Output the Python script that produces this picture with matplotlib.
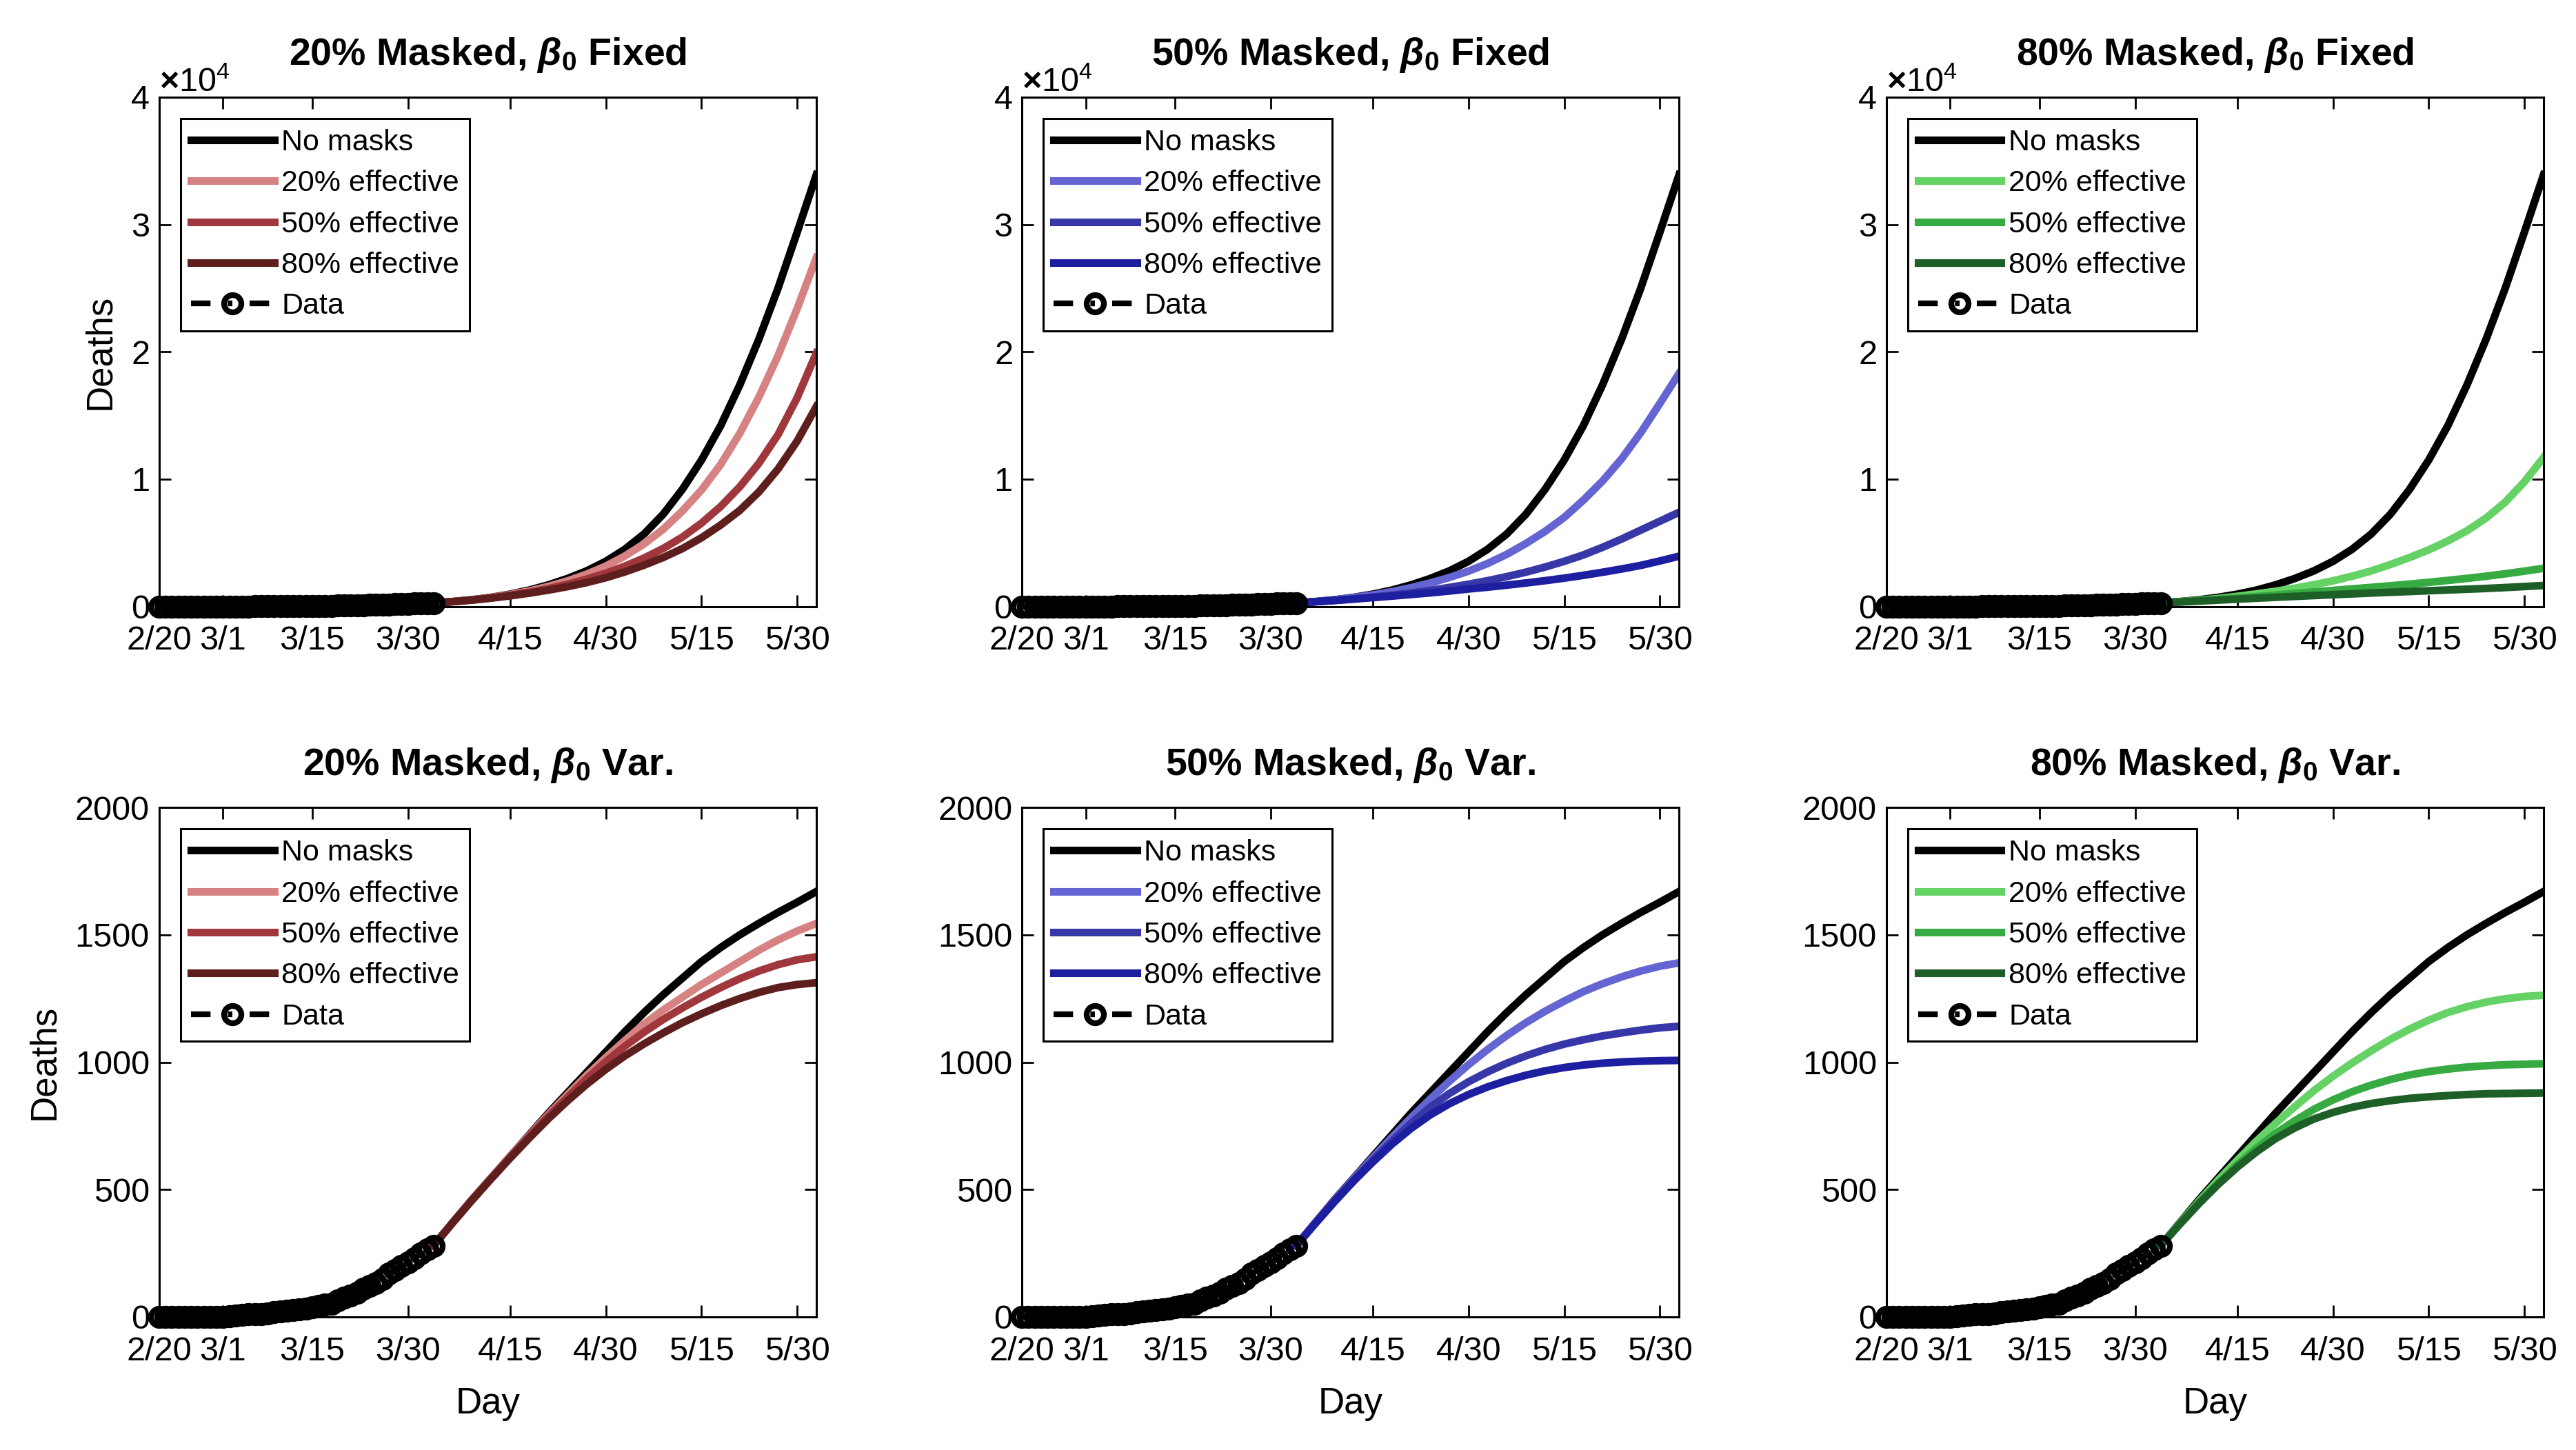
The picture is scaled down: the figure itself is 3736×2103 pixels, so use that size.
import matplotlib
matplotlib.use('Agg')
import matplotlib.pyplot as plt

plt.rcParams['font.family'] = ['Liberation Sans', 'DejaVu Sans']
plt.rcParams['mathtext.fontset'] = 'custom'
plt.rcParams['mathtext.it'] = 'Liberation Sans:italic:bold'
plt.rcParams['mathtext.rm'] = 'Liberation Sans:bold'

# x axis: days since 2/20
tick_days = [0, 10, 24, 39, 55, 70, 85, 100]
tick_labels = ['2/20', '3/1', '3/15', '3/30', '4/15', '4/30', '5/15', '5/30']

# observed cumulative deaths, 2/20 .. 4/3
data_days = list(range(44))
data_deaths = [0, 0, 0, 0, 0, 0, 0, 0, 0, 1,
               1, 2, 6, 9, 10, 11, 12, 14, 18, 22,
               24, 26, 30, 32, 38, 42, 48, 52, 66, 75,
               83, 94, 110, 123, 132, 148, 170, 185, 200, 215,
               230, 250, 265, 280]

# projection days (4/3 .. 6/2)
proj_days = [43, 46, 49, 52, 55, 58, 61, 64, 67, 70, 73,
             76, 79, 82, 85, 88, 91, 94, 97, 100, 103]

# beta_0 fixed (top row)
fixed_none = [280, 390, 530, 720, 970, 1290, 1700, 2200, 2800, 3550, 4500,
              5700, 7250, 9200, 11500, 14200, 17400, 21000, 25000, 29400, 33900]
fixed_red20 = [280, 388, 525, 705, 935, 1220, 1580, 2010, 2540, 3170, 3970,
               4920, 6070, 7500, 9150, 11150, 13600, 16450, 19700, 23400, 27400]
fixed_red50 = [280, 385, 515, 680, 880, 1120, 1410, 1750, 2150, 2620, 3170,
               3810, 4560, 5450, 6550, 7850, 9400, 11250, 13500, 16400, 19900]
fixed_red80 = [280, 382, 505, 660, 840, 1050, 1290, 1560, 1880, 2260, 2720,
               3250, 3850, 4550, 5400, 6400, 7550, 9000, 10800, 13000, 15700]
fixed_blue20 = [280, 388, 525, 700, 910, 1170, 1480, 1850, 2280, 2780, 3380,
                4100, 4950, 5900, 7000, 8350, 9850, 11600, 13650, 15950, 18300]
fixed_blue50 = [280, 375, 480, 600, 740, 890, 1070, 1270, 1500, 1750, 2030,
                2350, 2700, 3100, 3550, 4050, 4650, 5300, 6000, 6700, 7400]
fixed_blue80 = [280, 375, 475, 585, 700, 820, 945, 1075, 1220, 1380, 1520,
                1680, 1850, 2030, 2230, 2450, 2690, 2950, 3230, 3580, 3950]
fixed_green20 = [280, 375, 490, 630, 800, 990, 1200, 1440, 1710, 2020, 2380,
                 2800, 3300, 3850, 4450, 5150, 5950, 6950, 8200, 9800, 11700]
fixed_green50 = [280, 370, 465, 565, 670, 780, 905, 1025, 1145, 1265, 1385,
                 1505, 1630, 1760, 1900, 2050, 2210, 2380, 2570, 2780, 3000]
fixed_green80 = [280, 355, 430, 505, 580, 655, 725, 795, 865, 930, 995,
                 1060, 1120, 1180, 1240, 1300, 1360, 1420, 1490, 1570, 1650]

# beta_0 varying (bottom row)
var_none = [280, 370, 460, 545, 630, 715, 800, 880, 960, 1040, 1120,
            1195, 1265, 1330, 1395, 1450, 1500, 1545, 1588, 1628, 1670]
var_red20 = [280, 370, 460, 545, 630, 712, 795, 872, 948, 1018, 1085,
             1150, 1205, 1255, 1305, 1350, 1395, 1440, 1480, 1515, 1545]
var_red50 = [280, 370, 458, 543, 627, 708, 788, 862, 935, 1002, 1063,
             1118, 1168, 1213, 1255, 1293, 1328, 1358, 1383, 1402, 1414]
var_red80 = [280, 370, 457, 541, 623, 702, 778, 848, 913, 972, 1025,
             1072, 1115, 1155, 1190, 1222, 1250, 1274, 1293, 1305, 1312]
var_blue20 = [280, 370, 458, 543, 625, 705, 782, 855, 925, 990, 1050,
              1105, 1155, 1200, 1240, 1277, 1308, 1335, 1358, 1377, 1390]
var_blue50 = [280, 368, 455, 537, 615, 690, 760, 823, 877, 923, 962,
              996, 1025, 1050, 1071, 1088, 1103, 1115, 1126, 1135, 1141]
var_blue80 = [280, 367, 452, 533, 608, 678, 740, 793, 837, 873, 903,
              928, 949, 966, 979, 989, 996, 1001, 1004, 1006, 1007]
var_green20 = [280, 368, 454, 537, 615, 690, 760, 825, 888, 945, 997,
               1045, 1090, 1130, 1165, 1195, 1218, 1236, 1249, 1258, 1263]
var_green50 = [280, 366, 449, 526, 597, 662, 720, 770, 815, 852, 884,
               910, 932, 950, 963, 973, 981, 986, 990, 992, 994]
var_green80 = [280, 364, 445, 520, 588, 648, 700, 742, 777, 803, 823,
               838, 849, 858, 864, 869, 873, 876, 877, 878, 879]

masked = ['20%', '50%', '80%']
eff_labels = ['20% effective', '50% effective', '80% effective']
palettes = [['#D78282', '#A0373C', '#5F1E1E'],
            ['#6464D2', '#3737A8', '#1E1EA0'],
            ['#64D264', '#37AA41', '#1E5F28']]

fig = plt.figure(figsize=(18.68, 10.515), dpi=200)
lefts = [0.0618, 0.3967, 0.7323]
bottoms = [0.5817, 0.0918]
w, h = 0.2551, 0.3513

rows = [(fixed_none, [[fixed_red20, fixed_red50, fixed_red80],
                      [fixed_blue20, fixed_blue50, fixed_blue80],
                      [fixed_green20, fixed_green50, fixed_green80]], 'Fixed'),
        (var_none, [[var_red20, var_red50, var_red80],
                    [var_blue20, var_blue50, var_blue80],
                    [var_green20, var_green50, var_green80]], 'Var.')]

for r, (none, groups, tag) in enumerate(rows):
    for c in range(3):
        ax = fig.add_axes([lefts[c], bottoms[r], w, h])
        ax.plot(proj_days, none, color='k', lw=4, label='No masks')
        for k in range(3):
            ax.plot(proj_days, groups[c][k], color=palettes[c][k], lw=4,
                    label=eff_labels[k])
        ax.plot(data_days, data_deaths, color='k', ls=(0, (3.4, 3.0, 0.8, 3.0)),
                lw=3, marker='o', ms=9, mfc='none', mec='k', mew=3,
                label='Data', clip_on=False, zorder=5)
        ax.set_xlim(0, 103)
        ax.set_xticks(tick_days)
        ax.set_xticklabels(tick_labels)
        if r == 0:
            ax.set_ylim(0, 40000)
            ax.set_yticks([0, 10000, 20000, 30000, 40000])
            ax.ticklabel_format(axis='y', style='sci', scilimits=(0, 0), useMathText=True)
            ax.yaxis.get_offset_text().set_fontsize(17.5)
        else:
            ax.set_ylim(0, 2000)
            ax.set_yticks([0, 500, 1000, 1500, 2000])
            ax.set_xlabel('Day', fontsize=19, labelpad=10)
        if c == 0:
            ax.set_ylabel('Deaths', fontsize=19, labelpad=7)
        ax.tick_params(direction='in', top=True, right=True, labelsize=17.5,
                       length=6, width=1)
        ax.tick_params(axis='x', pad=10)
        ax.tick_params(axis='y', pad=5)
        for s in ax.spines.values():
            s.set_linewidth(1.1)
        ax.set_title(masked[c] + r' Masked, $\beta_0$ ' + tag,
                     fontsize=20, fontweight='bold', pad=17)
        leg = ax.legend(loc='upper left', fontsize=15.5, handlelength=2.8,
                        handletextpad=0.25, labelspacing=0.45, borderpad=0.35,
                        borderaxespad=0.72, fancybox=False, framealpha=1,
                        edgecolor='k', numpoints=1)
        leg.get_frame().set_linewidth(1.1)

fig.savefig('out.png', dpi=200)
